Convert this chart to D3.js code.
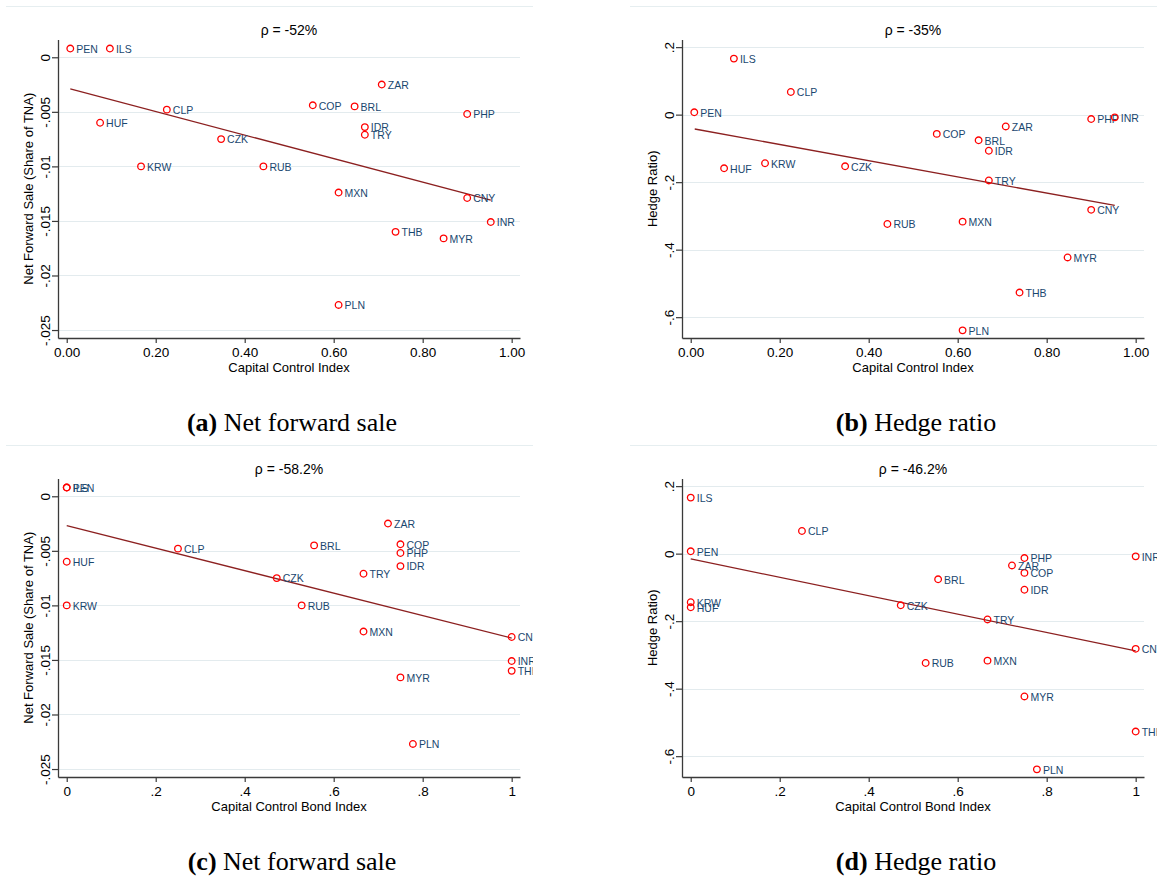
<!DOCTYPE html>
<html>
<head>
<meta charset="utf-8">
<script src="https://cdn.jsdelivr.net/npm/d3@7"></script>
<style>
    body { margin: 0; background: #fff; }
    svg { display: block; }
    text { font-family: "Liberation Sans", Arial, sans-serif; fill: #000; }
    .caption { font-family: "Liberation Serif", serif; font-size: 26px; }
</style>
</head>
<body>
<svg id="chart" width="1158" height="884"></svg>
<script>
/***************************************************************
    Data
****************************************************************/
const currencies = ["PEN", "ILS", "CLP", "HUF", "CZK", "KRW", "RUB", "COP", "BRL", "ZAR",
                    "IDR", "TRY", "PHP", "MXN", "CNY", "INR", "THB", "MYR", "PLN"];
const capitalControlIndex = [0.008, 0.097, 0.225, 0.075, 0.347, 0.167, 0.442, 0.553, 0.647, 0.708,
                             0.670, 0.670, 0.900, 0.611, 0.900, 0.953, 0.739, 0.847, 0.611];
const capitalControlBondIndex = [0, 0, 0.25, 0, 0.472, 0, 0.528, 0.75, 0.556, 0.722,
                                 0.75, 0.667, 0.75, 0.667, 1, 1, 1, 0.75, 0.778];
const netForwardSale = [0.0008, 0.0008, -0.0048, -0.0060, -0.0075, -0.0100, -0.0100, -0.0044, -0.0045, -0.0025,
                        -0.0064, -0.0071, -0.0052, -0.0124, -0.0129, -0.0151, -0.0160, -0.0166, -0.0227];
const hedgeRatio = [0.007, 0.166, 0.067, -0.159, -0.153, -0.144, -0.324, -0.057, -0.076, -0.035,
                    -0.107, -0.195, -0.013, -0.317, -0.282, -0.008, -0.527, -0.423, -0.639];

// fitted lines, [start, end]
const fitNetFwdCap = [[0.008, -0.0029], [0.953, -0.0131]];
const fitHedgeCap = [[0.009, -0.0425], [0.953, -0.269]];
const fitNetFwdBond = [[0, -0.0027], [1, -0.0130]];
const fitHedgeBond = [[0, -0.0157], [1, -0.288]];

const rhoLabels = ["ρ = -52%", "ρ = -35%", "ρ = -58.2%", "ρ = -46.2%"];
const captionLetters = ["(a)", "(b)", "(c)", "(d)"];
const captionTexts = ["Net forward sale", "Hedge ratio", "Net forward sale", "Hedge ratio"];

const netFwdTicks = [0, -0.005, -0.01, -0.015, -0.02, -0.025];
const netFwdTickLabels = ["0", "-.005", "-.01", "-.015", "-.02", "-.025"];
const hedgeTicks = [0.2, 0, -0.2, -0.4, -0.6];
const hedgeTickLabels = [".2", "0", "-.2", "-.4", "-.6"];
const indexTicks = [0, 0.2, 0.4, 0.6, 0.8, 1];
const capTickLabels = ["0.00", "0.20", "0.40", "0.60", "0.80", "1.00"];
const bondTickLabels = ["0", ".2", ".4", ".6", ".8", "1"];

/***************************************************************
    Layout
****************************************************************/
const plot = { left: 58, right: 520, top: 39.5, bottom: 338 };
const xExtent = [-0.0196, 1.0187];
const netFwdExtent = [0.00163, -0.02573];
const hedgeExtent = [0.2226, -0.6617];

const panels = [
    { dx: 0,   dy: 0,   xs: capitalControlIndex,     ys: netForwardSale, fit: fitNetFwdCap,
      yExt: netFwdExtent, yTicks: netFwdTicks, yLabels: netFwdTickLabels, xLabels: capTickLabels,
      xTitle: "Capital Control Index", yTitle: "Net Forward Sale (Share of TNA)" },
    { dx: 624, dy: 0,   xs: capitalControlIndex,     ys: hedgeRatio, fit: fitHedgeCap,
      yExt: hedgeExtent, yTicks: hedgeTicks, yLabels: hedgeTickLabels, xLabels: capTickLabels,
      xTitle: "Capital Control Index", yTitle: "Hedge Ratio)" },
    { dx: 0,   dy: 439, xs: capitalControlBondIndex, ys: netForwardSale, fit: fitNetFwdBond,
      yExt: netFwdExtent, yTicks: netFwdTicks, yLabels: netFwdTickLabels, xLabels: bondTickLabels,
      xTitle: "Capital Control Bond Index", yTitle: "Net Forward Sale (Share of TNA)" },
    { dx: 624, dy: 439, xs: capitalControlBondIndex, ys: hedgeRatio, fit: fitHedgeBond,
      yExt: hedgeExtent, yTicks: hedgeTicks, yLabels: hedgeTickLabels, xLabels: bondTickLabels,
      xTitle: "Capital Control Bond Index", yTitle: "Hedge Ratio)" }
];

/***************************************************************
    Drawing
****************************************************************/
const svg = d3.select("#chart");

svg.append("defs").append("clipPath").attr("id", "panel-clip")
    .append("rect").attr("x", 0).attr("y", 0).attr("width", 533).attr("height", 440);

panels.forEach((p, i) => drawPanel(p, i));

function drawPanel(p, i) {
    const g = svg.append("g").attr("transform", `translate(${p.dx},${p.dy})`)
        .attr("clip-path", "url(#panel-clip)");

    const x = d3.scaleLinear().domain(xExtent).range([plot.left, plot.right]);
    const y = d3.scaleLinear().domain(p.yExt).range([plot.top, plot.bottom]);

    // thin frame line at the top of the graph region
    g.append("line").attr("x1", 6).attr("x2", 533).attr("y1", 6.5).attr("y2", 6.5)
        .attr("stroke", "#e6eef0").attr("stroke-width", 1.2);

    // gridlines
    g.append("g").selectAll("line").data(p.yTicks).enter().append("line")
        .attr("x1", plot.left).attr("x2", plot.right)
        .attr("y1", d => Math.round(y(d)) + 0.5).attr("y2", d => Math.round(y(d)) + 0.5)
        .attr("stroke", "#e3ebee").attr("stroke-width", 1.2);

    // y axis
    const yAxis = g.append("g").attr("transform", `translate(${plot.left},0)`)
        .call(d3.axisLeft(y).tickValues(p.yTicks).tickFormat((d, k) => p.yLabels[k])
            .tickSize(6).tickSizeOuter(0));
    styleAxis(yAxis);
    yAxis.selectAll(".tick text")
        .attr("x", null).attr("dy", null)
        .attr("transform", "translate(-8,0) rotate(-90)")
        .attr("text-anchor", "middle");

    // x axis
    const xAxis = g.append("g").attr("transform", `translate(0,${plot.bottom})`)
        .call(d3.axisBottom(x).tickValues(indexTicks).tickFormat((d, k) => p.xLabels[k])
            .tickSize(5).tickSizeOuter(0));
    styleAxis(xAxis);
    xAxis.selectAll(".tick text").attr("y", 9);

    // titles
    g.append("text").attr("x", (plot.left + plot.right) / 2).attr("y", 35)
        .attr("text-anchor", "middle").style("font-size", "14px").text(rhoLabels[i]);
    g.append("text").attr("x", (plot.left + plot.right) / 2).attr("y", 372)
        .attr("text-anchor", "middle").style("font-size", "13px").text(p.xTitle);
    g.append("text")
        .attr("transform", `translate(33,${(plot.top + plot.bottom) / 2}) rotate(-90)`)
        .attr("text-anchor", "middle").style("font-size", "13px").text(p.yTitle);

    // fitted line
    g.append("path").datum(p.fit)
        .attr("d", d3.line().x(d => x(d[0])).y(d => y(d[1])))
        .attr("fill", "none").attr("stroke", "#8c2020").attr("stroke-width", 1.3);

    // points and labels
    const pts = currencies.map((c, k) => ({ name: c, xv: p.xs[k], yv: p.ys[k] }));
    const dots = g.append("g").selectAll("g").data(pts).enter().append("g")
        .attr("transform", d => `translate(${x(d.xv)},${y(d.yv)})`);
    dots.append("circle").attr("r", 3.3)
        .attr("fill", "none").attr("stroke", "#ff0000").attr("stroke-width", 1.3);
    dots.append("text").attr("x", 6).attr("dy", 4.3)
        .style("font-size", "10.5px").style("fill", "#1a476f").text(d => d.name);

    // caption under the panel
    const cap = svg.append("text").attr("class", "caption")
        .attr("x", p.dx + 292).attr("y", p.dy + 431).attr("text-anchor", "middle");
    cap.append("tspan").style("font-weight", "bold").text(captionLetters[i]);
    cap.append("tspan").text(" " + captionTexts[i]);
}

function styleAxis(axis) {
    axis.select(".domain").attr("stroke", "#3a3a3a").attr("stroke-width", 1.3);
    axis.selectAll(".tick line").attr("stroke", "#3a3a3a").attr("stroke-width", 1.2);
    axis.selectAll(".tick text").style("font-size", "13.5px").attr("fill", "#000");
}
</script>
</body>
</html>
